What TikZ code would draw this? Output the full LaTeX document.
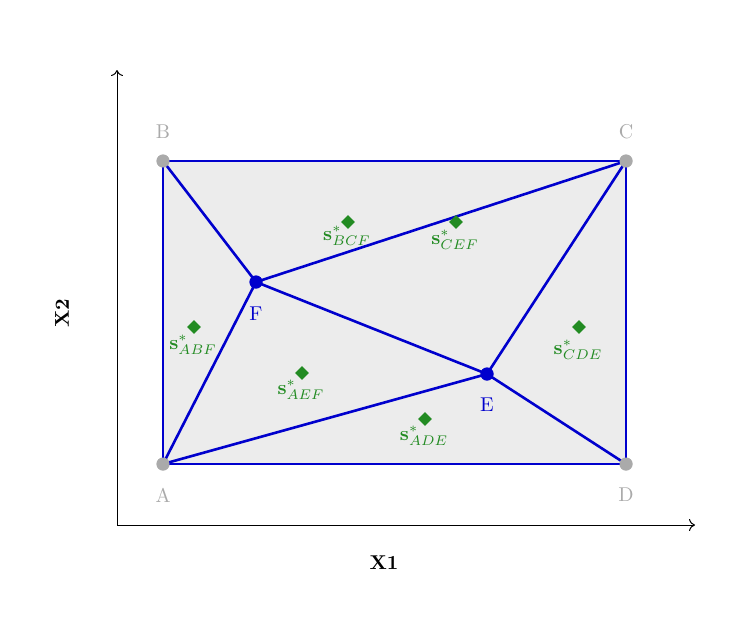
\documentclass[tikz,border=0pt]{standalone}
\usetikzlibrary{shapes.geometric,arrows.meta}
\definecolor{eblue}{RGB}{0,0,205}
\definecolor{sgreen}{RGB}{34,139,34}
\definecolor{pgray}{RGB}{170,170,170}
\definecolor{pfill}{RGB}{236,236,236}
\begin{document}
\begin{tikzpicture}[x=0.5pt,y=-0.5pt,
  edge/.style={draw=eblue,line width=1.3pt},
  corner/.style={circle,fill=pgray,inner sep=0pt,minimum size=6.5pt},
  inner/.style={circle,fill=eblue,inner sep=0pt,minimum size=6.5pt},
  glab/.style={text=pgray},
  blab/.style={text=eblue},
  sol/.style={diamond,fill=sgreen,inner sep=0pt,minimum size=7pt},
  slab/.style={text=sgreen,inner sep=0pt},
  axis/.style={draw=black,line width=0.5pt,-{To[length=3pt,width=6pt]}}]
\useasboundingbox (0,0) rectangle (732,627);
\coordinate (O) at (117,525);
\coordinate (Xe) at (695,525);
\coordinate (Ye) at (117,70);
\draw[axis] (O) -- (Xe);
\draw[axis] (O) -- (Ye);
\node[font=\bfseries] (xl) at (384,563) {X1};
\node[font=\bfseries,rotate=90] (yl) at (62,313) {X2};
\fill[pfill] (163,161) rectangle (626,464);
\node[corner] (A) at (163,464) {};
\node[corner] (B) at (163,161) {};
\node[corner] (C) at (626,161) {};
\node[corner] (D) at (626,464) {};
\node[inner] (F) at (256,282) {};
\node[inner] (E) at (487,374) {};
\draw[edge] (A.center) -- (B.center) -- (C.center) -- (D.center) -- cycle;
\draw[edge] (B.center) -- (F.center) -- (C.center);
\draw[edge] (A.center) -- (F.center) -- (E.center) -- (C.center);
\draw[edge] (A.center) -- (E.center) -- (D.center);
\node[corner] at (A) {};
\node[corner] at (B) {};
\node[corner] at (C) {};
\node[corner] at (D) {};
\node[inner] at (F) {};
\node[inner] at (E) {};
\node[glab] (lA) at (163,495) {A};
\node[glab] (lB) at (163,132) {B};
\node[glab] (lC) at (626,132) {C};
\node[glab] (lD) at (626,495) {D};
\node[blab] (lF) at (256,314) {F};
\node[blab] (lE) at (487,405) {E};
\node[sol] (s1) at (348,222) {};
\node[sol] (s2) at (456,222) {};
\node[sol] (s3) at (194,327) {};
\node[sol] (s4) at (302,373) {};
\node[sol] (s5) at (425,419) {};
\node[sol] (s6) at (579,327) {};
\node[slab] (t1) at (347,236) {$\mathbf{s}^*_{BCF}$};
\node[slab] (t2) at (455,240) {$\mathbf{s}^*_{CEF}$};
\node[slab] (t3) at (193,345) {$\mathbf{s}^*_{ABF}$};
\node[slab] (t4) at (301,390) {$\mathbf{s}^*_{AEF}$};
\node[slab] (t5) at (424,436) {$\mathbf{s}^*_{ADE}$};
\node[slab] (t6) at (578,350) {$\mathbf{s}^*_{CDE}$};
\end{tikzpicture}
\end{document}
